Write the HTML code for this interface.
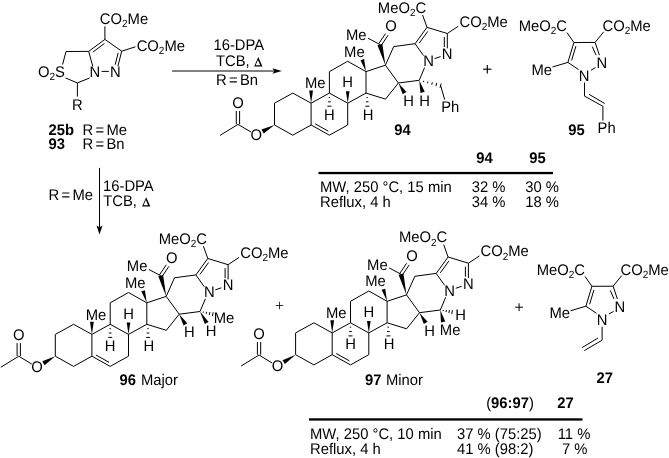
<!DOCTYPE html>
<html><head><meta charset="utf-8"><style>
html,body{margin:0;padding:0;background:#fff;width:669px;height:458px;overflow:hidden}
svg{display:block;will-change:transform}
text{text-rendering:geometricPrecision;font-family:"Liberation Sans", sans-serif;fill:#000}
</style></head><body>
<svg width="669" height="458" viewBox="0 0 669 458" stroke-linecap="butt">
<line x1="104.9" y1="39.4" x2="104.9" y2="26.4" stroke="#000" stroke-width="1.0"/>
<line x1="88.7" y1="51.4" x2="104.9" y2="39.4" stroke="#000" stroke-width="1.0"/>
<line x1="104.9" y1="39.4" x2="121.7" y2="51.2" stroke="#000" stroke-width="1.0"/>
<line x1="92.75" y1="52.13" x2="104.42" y2="43.49" stroke="#000" stroke-width="1.0"/>
<line x1="121.7" y1="51.2" x2="135.4" y2="46.8" stroke="#000" stroke-width="1.0"/>
<line x1="66" y1="51.5" x2="88.7" y2="51.4" stroke="#000" stroke-width="1.0"/>
<line x1="66" y1="51.5" x2="62.6" y2="64.5" stroke="#000" stroke-width="1.0"/>
<line x1="121.7" y1="51.2" x2="117.9" y2="66.2" stroke="#000" stroke-width="1.0"/>
<line x1="118.18" y1="52.86" x2="115.18" y2="64.71" stroke="#000" stroke-width="1.0"/>
<line x1="88.7" y1="51.4" x2="92.8" y2="66.4" stroke="#000" stroke-width="1.0"/>
<line x1="101.6" y1="71.4" x2="108.8" y2="71.4" stroke="#000" stroke-width="1.0"/>
<line x1="65.6" y1="78" x2="77.4" y2="82.9" stroke="#000" stroke-width="1.0"/>
<line x1="89.6" y1="78" x2="77.4" y2="82.9" stroke="#000" stroke-width="1.0"/>
<line x1="77.4" y1="82.9" x2="77.4" y2="96.6" stroke="#000" stroke-width="1.0"/>
<text transform="translate(124,24.1) scale(1,1.04)" font-size="14.8" text-anchor="middle">CO<tspan font-size="10" dy="3.2">2</tspan><tspan dy="-3.2">Me</tspan></text>
<text transform="translate(160.8,50.9) scale(1,1.04)" font-size="14.8" text-anchor="middle">CO<tspan font-size="10" dy="3.2">2</tspan><tspan dy="-3.2">Me</tspan></text>
<text transform="translate(51.4,76.6) scale(1,1.04)" font-size="14.8" text-anchor="middle">O<tspan font-size="10" dy="3.2">2</tspan><tspan dy="-3.2">S</tspan></text>
<text transform="translate(94.8,76.6) scale(1,1.04)" font-size="14.8" text-anchor="middle">N</text>
<text transform="translate(115.3,76.6) scale(1,1.04)" font-size="14.8" text-anchor="middle">N</text>
<text transform="translate(77.4,110.4) scale(1,1.04)" font-size="14.8" text-anchor="middle">R</text>
<text transform="translate(48.5,134.7) scale(1,1.04)" font-size="14.8" text-anchor="start" font-weight="bold">25b</text>
<text transform="translate(82.5,134.7) scale(1,1.04)" font-size="14.8" text-anchor="start">R<tspan dx="2.3">=</tspan><tspan dx="2.3">Me</tspan></text>
<text transform="translate(48.5,148.6) scale(1,1.04)" font-size="14.8" text-anchor="start" font-weight="bold">93</text>
<text transform="translate(82.5,148.6) scale(1,1.04)" font-size="14.8" text-anchor="start">R<tspan dx="2.3">=</tspan><tspan dx="2.3">Bn</tspan></text>
<line x1="172.1" y1="71" x2="275" y2="71" stroke="#000" stroke-width="1.0"/>
<polygon points="281.8,71 272.4,68.2 274.4,71 272.4,73.8"/>
<text transform="translate(238.8,50.3) scale(1,1.04)" font-size="14.8" text-anchor="middle">16-DPA</text>
<text transform="translate(216,66.2) scale(1,1.04)" font-size="14.8" text-anchor="start">TCB,</text>
<path fill-rule="evenodd" d="M258.3,57.1L262.45,66.5L254.15,66.5Z M257.94,60.01L260.24,65.2L255.65,65.2Z"/>
<text transform="translate(237,84.5) scale(1,1.04)" font-size="14.8" text-anchor="middle">R<tspan dx="2.3">=</tspan><tspan dx="2.3">Bn</tspan></text>
<line x1="292.8" y1="93.1" x2="274.5" y2="103.2" stroke="#000" stroke-width="1.0"/>
<line x1="274.5" y1="103.2" x2="274.5" y2="125" stroke="#000" stroke-width="1.0"/>
<line x1="274.5" y1="125" x2="292.8" y2="135.2" stroke="#000" stroke-width="1.0"/>
<line x1="292.8" y1="135.2" x2="311.1" y2="125" stroke="#000" stroke-width="1.0"/>
<line x1="311.1" y1="125" x2="311.1" y2="103.2" stroke="#000" stroke-width="1.0"/>
<line x1="311.1" y1="103.2" x2="292.8" y2="93.1" stroke="#000" stroke-width="1.0"/>
<line x1="311.1" y1="125" x2="329.4" y2="135.2" stroke="#000" stroke-width="1.0"/>
<line x1="329.4" y1="135.2" x2="347.7" y2="125" stroke="#000" stroke-width="1.0"/>
<line x1="347.7" y1="125" x2="347.7" y2="103.2" stroke="#000" stroke-width="1.0"/>
<line x1="347.7" y1="103.2" x2="329.4" y2="93.1" stroke="#000" stroke-width="1.0"/>
<line x1="329.4" y1="93.1" x2="311.1" y2="103.2" stroke="#000" stroke-width="1.0"/>
<line x1="329.4" y1="93.1" x2="329.4" y2="71.6" stroke="#000" stroke-width="1.0"/>
<line x1="329.4" y1="71.6" x2="347.7" y2="61.3" stroke="#000" stroke-width="1.0"/>
<line x1="347.7" y1="61.3" x2="366" y2="71.6" stroke="#000" stroke-width="1.0"/>
<line x1="366" y1="71.6" x2="366" y2="93.1" stroke="#000" stroke-width="1.0"/>
<line x1="366" y1="93.1" x2="347.7" y2="103.2" stroke="#000" stroke-width="1.0"/>
<line x1="366" y1="71.6" x2="385.4" y2="65.2" stroke="#000" stroke-width="1.0"/>
<line x1="385.4" y1="65.2" x2="398.4" y2="83" stroke="#000" stroke-width="1.0"/>
<line x1="398.4" y1="83" x2="385.5" y2="99.1" stroke="#000" stroke-width="1.0"/>
<line x1="385.5" y1="99.1" x2="366" y2="93.1" stroke="#000" stroke-width="1.0"/>
<line x1="385.4" y1="65.2" x2="393.7" y2="46.6" stroke="#000" stroke-width="1.0"/>
<line x1="393.7" y1="46.6" x2="415.1" y2="43.7" stroke="#000" stroke-width="1.0"/>
<line x1="419.2" y1="80.3" x2="398.4" y2="83" stroke="#000" stroke-width="1.0"/>
<line x1="415.1" y1="43.7" x2="427" y2="27.3" stroke="#000" stroke-width="1.0"/>
<line x1="427" y1="27.3" x2="447.3" y2="33.5" stroke="#000" stroke-width="1.0"/>
<line x1="315.12" y1="123.81" x2="328.3" y2="131.15" stroke="#000" stroke-width="1.0"/>
<line x1="419.19" y1="43.17" x2="427.76" y2="31.36" stroke="#000" stroke-width="1.0"/>
<line x1="415.1" y1="43.7" x2="423.5" y2="55.6" stroke="#000" stroke-width="1.0"/>
<line x1="424.6" y1="67.6" x2="419.2" y2="80.3" stroke="#000" stroke-width="1.0"/>
<line x1="434.6" y1="58.6" x2="440.6" y2="56.6" stroke="#000" stroke-width="1.0"/>
<line x1="447.3" y1="33.5" x2="447.3" y2="48.3" stroke="#000" stroke-width="1.0"/>
<line x1="444.3" y1="37" x2="444.3" y2="47" stroke="#000" stroke-width="1.0"/>
<line x1="427" y1="27.3" x2="422.6" y2="15" stroke="#000" stroke-width="1.0"/>
<line x1="447.3" y1="33.5" x2="458.3" y2="26.2" stroke="#000" stroke-width="1.0"/>
<text transform="translate(402,12.7) scale(1,1.04)" font-size="14.8" text-anchor="middle">MeO<tspan font-size="10" dy="3.2">2</tspan><tspan dy="-3.2">C</tspan></text>
<text transform="translate(483.6,26.6) scale(1,1.04)" font-size="14.8" text-anchor="middle">CO<tspan font-size="10" dy="3.2">2</tspan><tspan dy="-3.2">Me</tspan></text>
<text transform="translate(428.5,65.9) scale(1,1.04)" font-size="14.8" text-anchor="middle">N</text>
<text transform="translate(447.2,59) scale(1,1.04)" font-size="14.8" text-anchor="middle">N</text>
<polygon points="385.4,65.2 382.32,43.86 377.48,45.14"/>
<line x1="379.9" y1="44.5" x2="368" y2="38.2" stroke="#000" stroke-width="1.0"/>
<line x1="378.6" y1="43.8" x2="385.5" y2="33.6" stroke="#000" stroke-width="1.0"/>
<line x1="381.3" y1="45.3" x2="388.1" y2="35.2" stroke="#000" stroke-width="1.0"/>
<text transform="translate(390.9,31.3) scale(1,1.04)" font-size="14.8" text-anchor="middle">O</text>
<text transform="translate(356.3,40) scale(1,1.04)" font-size="14.8" text-anchor="middle">Me</text>
<polygon points="366,71.6 364.12,59.04 360.48,60.16"/>
<text transform="translate(354.4,56.5) scale(1,1.04)" font-size="14.8" text-anchor="middle">Me</text>
<polygon points="311.1,103.2 313,90.6 309.2,90.6"/>
<text transform="translate(315.2,88.4) scale(1,1.04)" font-size="14.8" text-anchor="middle">Me</text>
<polygon points="347.7,103.2 349.5,91.3 345.9,91.3"/>
<text transform="translate(347.7,87.4) scale(1,1.04)" font-size="14.8" text-anchor="middle">H</text>
<line x1="328.73" y1="97.47" x2="330.07" y2="97.47" stroke="#000" stroke-width="1.0"/>
<line x1="328.07" y1="101.83" x2="330.73" y2="101.83" stroke="#000" stroke-width="1.0"/>
<line x1="327.4" y1="106.2" x2="331.4" y2="106.2" stroke="#000" stroke-width="1.0"/>
<text transform="translate(329.4,119.6) scale(1,1.04)" font-size="14.8" text-anchor="middle">H</text>
<line x1="366.43" y1="97.48" x2="367.77" y2="97.45" stroke="#000" stroke-width="1.0"/>
<line x1="365.87" y1="101.86" x2="368.53" y2="101.8" stroke="#000" stroke-width="1.0"/>
<line x1="365.3" y1="106.25" x2="369.3" y2="106.15" stroke="#000" stroke-width="1.0"/>
<text transform="translate(368,119.6) scale(1,1.04)" font-size="14.8" text-anchor="middle">H</text>
<polygon points="398.4,83 402.72,94.34 406.48,92.06"/>
<text transform="translate(408.5,105.9) scale(1,1.04)" font-size="14.8" text-anchor="middle">H</text>
<polygon points="274.5,125 261.48,129.59 263.72,133.61"/>
<line x1="251" y1="132" x2="238" y2="124.4" stroke="#000" stroke-width="1.0"/>
<line x1="238" y1="124.4" x2="220" y2="135.4" stroke="#000" stroke-width="1.0"/>
<line x1="236.3" y1="111" x2="236.3" y2="124.2" stroke="#000" stroke-width="1.0"/>
<line x1="239.6" y1="111" x2="239.6" y2="124.2" stroke="#000" stroke-width="1.0"/>
<text transform="translate(256.3,139.6) scale(1,1.04)" font-size="14.8" text-anchor="middle">O</text>
<text transform="translate(238,108.3) scale(1,1.04)" font-size="14.8" text-anchor="middle">O</text>
<polygon points="419.2,80.3 420.48,93 424.72,91.8"/>
<text transform="translate(424.6,105.9) scale(1,1.04)" font-size="14.8" text-anchor="middle">H</text>
<line x1="423.34" y1="81.94" x2="423.62" y2="80.78" stroke="#000" stroke-width="1.0"/>
<line x1="427.56" y1="83.24" x2="427.96" y2="81.6" stroke="#000" stroke-width="1.0"/>
<line x1="431.74" y1="84.7" x2="432.34" y2="82.26" stroke="#000" stroke-width="1.0"/>
<line x1="435.92" y1="86.17" x2="436.72" y2="82.91" stroke="#000" stroke-width="1.0"/>
<line x1="440.1" y1="87.64" x2="441.1" y2="83.56" stroke="#000" stroke-width="1.0"/>
<line x1="440.6" y1="85.6" x2="444.7" y2="99.6" stroke="#000" stroke-width="1.0"/>
<text transform="translate(450.2,111.9) scale(1,1.04)" font-size="14.8" text-anchor="middle">Ph</text>
<text transform="translate(402.6,135) scale(1,1.04)" font-size="14.8" text-anchor="middle" font-weight="bold">94</text>
<line x1="483.1" y1="69.2" x2="491.5" y2="69.2" stroke="#000" stroke-width="1.15"/>
<line x1="487.3" y1="65" x2="487.3" y2="73.4" stroke="#000" stroke-width="1.15"/>
<line x1="573.9" y1="42.5" x2="595.1" y2="42.4" stroke="#000" stroke-width="1.0"/>
<line x1="573.9" y1="42.5" x2="567.9" y2="62.4" stroke="#000" stroke-width="1.0"/>
<line x1="575.93" y1="46.15" x2="571.61" y2="60.48" stroke="#000" stroke-width="1.0"/>
<line x1="573.9" y1="42.5" x2="567" y2="32.6" stroke="#000" stroke-width="1.0"/>
<line x1="595.1" y1="42.4" x2="603.7" y2="31.8" stroke="#000" stroke-width="1.0"/>
<line x1="595.1" y1="42.4" x2="599.4" y2="55.2" stroke="#000" stroke-width="1.0"/>
<line x1="592.3" y1="46.6" x2="596" y2="55.2" stroke="#000" stroke-width="1.0"/>
<line x1="552.5" y1="67" x2="567.9" y2="62.4" stroke="#000" stroke-width="1.0"/>
<line x1="567.9" y1="62.4" x2="578.6" y2="69.6" stroke="#000" stroke-width="1.0"/>
<line x1="591" y1="70.2" x2="595.6" y2="67.6" stroke="#000" stroke-width="1.0"/>
<text transform="translate(542.8,31.1) scale(1,1.04)" font-size="14.8" text-anchor="middle">MeO<tspan font-size="10" dy="3.2">2</tspan><tspan dy="-3.2">C</tspan></text>
<text transform="translate(626.6,31.1) scale(1,1.04)" font-size="14.8" text-anchor="middle">CO<tspan font-size="10" dy="3.2">2</tspan><tspan dy="-3.2">Me</tspan></text>
<text transform="translate(601.8,67.8) scale(1,1.04)" font-size="14.8" text-anchor="middle">N</text>
<text transform="translate(541.8,74.6) scale(1,1.04)" font-size="14.8" text-anchor="middle">Me</text>
<text transform="translate(584.2,80.7) scale(1,1.04)" font-size="14.8" text-anchor="middle">N</text>
<line x1="584.5" y1="82.5" x2="584.5" y2="96.1" stroke="#000" stroke-width="1.0"/>
<line x1="584.5" y1="96.1" x2="602.9" y2="106.3" stroke="#000" stroke-width="1.0"/>
<line x1="589" y1="94.3" x2="604.7" y2="103.5" stroke="#000" stroke-width="1.0"/>
<line x1="602.9" y1="106.3" x2="602.9" y2="120.5" stroke="#000" stroke-width="1.0"/>
<text transform="translate(606.6,132.7) scale(1,1.04)" font-size="14.8" text-anchor="middle">Ph</text>
<text transform="translate(576.5,135) scale(1,1.04)" font-size="14.8" text-anchor="middle" font-weight="bold">95</text>
<text transform="translate(484.5,163) scale(1,1.04)" font-size="14.8" text-anchor="middle" font-weight="bold">94</text>
<text transform="translate(537.5,163) scale(1,1.04)" font-size="14.8" text-anchor="middle" font-weight="bold">95</text>
<rect x="318.5" y="171.9" width="234.5" height="2.3"/>
<text transform="translate(320,191.7) scale(1,1.04)" font-size="14.8" text-anchor="start">MW, 250 °C, 15 min</text>
<text transform="translate(320,206.8) scale(1,1.04)" font-size="14.8" text-anchor="start">Reflux, 4 h</text>
<text transform="translate(505.5,192) scale(1,1.04)" font-size="14.8" text-anchor="end">32 %</text>
<text transform="translate(559,192) scale(1,1.04)" font-size="14.8" text-anchor="end">30 %</text>
<text transform="translate(505.5,207) scale(1,1.04)" font-size="14.8" text-anchor="end">34 %</text>
<text transform="translate(559,207) scale(1,1.04)" font-size="14.8" text-anchor="end">18 %</text>
<line x1="99.5" y1="167.9" x2="99.5" y2="227" stroke="#000" stroke-width="1.0"/>
<polygon points="99.5,234.4 96.5,225.4 99.5,227.2 102.5,225.4"/>
<text transform="translate(93,200) scale(1,1.04)" font-size="14.8" text-anchor="end">R<tspan dx="2.3">=</tspan><tspan dx="2.3">Me</tspan></text>
<text transform="translate(103,191) scale(1,1.04)" font-size="14.8" text-anchor="start">16-DPA</text>
<text transform="translate(103.2,206.4) scale(1,1.04)" font-size="14.8" text-anchor="start">TCB,</text>
<path fill-rule="evenodd" d="M146.2,197.2L150.35,206.6L142.05,206.6Z M145.84,200.11L148.14,205.3L143.55,205.3Z"/>
<g transform="translate(-219.2,231.2)">
<line x1="292.8" y1="93.1" x2="274.5" y2="103.2" stroke="#000" stroke-width="1.0"/>
<line x1="274.5" y1="103.2" x2="274.5" y2="125" stroke="#000" stroke-width="1.0"/>
<line x1="274.5" y1="125" x2="292.8" y2="135.2" stroke="#000" stroke-width="1.0"/>
<line x1="292.8" y1="135.2" x2="311.1" y2="125" stroke="#000" stroke-width="1.0"/>
<line x1="311.1" y1="125" x2="311.1" y2="103.2" stroke="#000" stroke-width="1.0"/>
<line x1="311.1" y1="103.2" x2="292.8" y2="93.1" stroke="#000" stroke-width="1.0"/>
<line x1="311.1" y1="125" x2="329.4" y2="135.2" stroke="#000" stroke-width="1.0"/>
<line x1="329.4" y1="135.2" x2="347.7" y2="125" stroke="#000" stroke-width="1.0"/>
<line x1="347.7" y1="125" x2="347.7" y2="103.2" stroke="#000" stroke-width="1.0"/>
<line x1="347.7" y1="103.2" x2="329.4" y2="93.1" stroke="#000" stroke-width="1.0"/>
<line x1="329.4" y1="93.1" x2="311.1" y2="103.2" stroke="#000" stroke-width="1.0"/>
<line x1="329.4" y1="93.1" x2="329.4" y2="71.6" stroke="#000" stroke-width="1.0"/>
<line x1="329.4" y1="71.6" x2="347.7" y2="61.3" stroke="#000" stroke-width="1.0"/>
<line x1="347.7" y1="61.3" x2="366" y2="71.6" stroke="#000" stroke-width="1.0"/>
<line x1="366" y1="71.6" x2="366" y2="93.1" stroke="#000" stroke-width="1.0"/>
<line x1="366" y1="93.1" x2="347.7" y2="103.2" stroke="#000" stroke-width="1.0"/>
<line x1="366" y1="71.6" x2="385.4" y2="65.2" stroke="#000" stroke-width="1.0"/>
<line x1="385.4" y1="65.2" x2="398.4" y2="83" stroke="#000" stroke-width="1.0"/>
<line x1="398.4" y1="83" x2="385.5" y2="99.1" stroke="#000" stroke-width="1.0"/>
<line x1="385.5" y1="99.1" x2="366" y2="93.1" stroke="#000" stroke-width="1.0"/>
<line x1="385.4" y1="65.2" x2="393.7" y2="46.6" stroke="#000" stroke-width="1.0"/>
<line x1="393.7" y1="46.6" x2="415.1" y2="43.7" stroke="#000" stroke-width="1.0"/>
<line x1="419.2" y1="80.3" x2="398.4" y2="83" stroke="#000" stroke-width="1.0"/>
<line x1="415.1" y1="43.7" x2="427" y2="27.3" stroke="#000" stroke-width="1.0"/>
<line x1="427" y1="27.3" x2="447.3" y2="33.5" stroke="#000" stroke-width="1.0"/>
<line x1="315.12" y1="123.81" x2="328.3" y2="131.15" stroke="#000" stroke-width="1.0"/>
<line x1="419.19" y1="43.17" x2="427.76" y2="31.36" stroke="#000" stroke-width="1.0"/>
<line x1="415.1" y1="43.7" x2="423.5" y2="55.6" stroke="#000" stroke-width="1.0"/>
<line x1="424.6" y1="67.6" x2="419.2" y2="80.3" stroke="#000" stroke-width="1.0"/>
<line x1="434.6" y1="58.6" x2="440.6" y2="56.6" stroke="#000" stroke-width="1.0"/>
<line x1="447.3" y1="33.5" x2="447.3" y2="48.3" stroke="#000" stroke-width="1.0"/>
<line x1="444.3" y1="37" x2="444.3" y2="47" stroke="#000" stroke-width="1.0"/>
<line x1="427" y1="27.3" x2="422.6" y2="15" stroke="#000" stroke-width="1.0"/>
<line x1="447.3" y1="33.5" x2="458.3" y2="26.2" stroke="#000" stroke-width="1.0"/>
<text transform="translate(402,12.7) scale(1,1.04)" font-size="14.8" text-anchor="middle">MeO<tspan font-size="10" dy="3.2">2</tspan><tspan dy="-3.2">C</tspan></text>
<text transform="translate(483.6,26.6) scale(1,1.04)" font-size="14.8" text-anchor="middle">CO<tspan font-size="10" dy="3.2">2</tspan><tspan dy="-3.2">Me</tspan></text>
<text transform="translate(428.5,65.9) scale(1,1.04)" font-size="14.8" text-anchor="middle">N</text>
<text transform="translate(447.2,59) scale(1,1.04)" font-size="14.8" text-anchor="middle">N</text>
<polygon points="385.4,65.2 382.32,43.86 377.48,45.14"/>
<line x1="379.9" y1="44.5" x2="368" y2="38.2" stroke="#000" stroke-width="1.0"/>
<line x1="378.6" y1="43.8" x2="385.5" y2="33.6" stroke="#000" stroke-width="1.0"/>
<line x1="381.3" y1="45.3" x2="388.1" y2="35.2" stroke="#000" stroke-width="1.0"/>
<text transform="translate(390.9,31.3) scale(1,1.04)" font-size="14.8" text-anchor="middle">O</text>
<text transform="translate(356.3,40) scale(1,1.04)" font-size="14.8" text-anchor="middle">Me</text>
<polygon points="366,71.6 364.12,59.04 360.48,60.16"/>
<text transform="translate(354.4,56.5) scale(1,1.04)" font-size="14.8" text-anchor="middle">Me</text>
<polygon points="311.1,103.2 313,90.6 309.2,90.6"/>
<text transform="translate(315.2,88.4) scale(1,1.04)" font-size="14.8" text-anchor="middle">Me</text>
<polygon points="347.7,103.2 349.5,91.3 345.9,91.3"/>
<text transform="translate(347.7,87.4) scale(1,1.04)" font-size="14.8" text-anchor="middle">H</text>
<line x1="328.73" y1="97.47" x2="330.07" y2="97.47" stroke="#000" stroke-width="1.0"/>
<line x1="328.07" y1="101.83" x2="330.73" y2="101.83" stroke="#000" stroke-width="1.0"/>
<line x1="327.4" y1="106.2" x2="331.4" y2="106.2" stroke="#000" stroke-width="1.0"/>
<text transform="translate(329.4,119.6) scale(1,1.04)" font-size="14.8" text-anchor="middle">H</text>
<line x1="366.43" y1="97.48" x2="367.77" y2="97.45" stroke="#000" stroke-width="1.0"/>
<line x1="365.87" y1="101.86" x2="368.53" y2="101.8" stroke="#000" stroke-width="1.0"/>
<line x1="365.3" y1="106.25" x2="369.3" y2="106.15" stroke="#000" stroke-width="1.0"/>
<text transform="translate(368,119.6) scale(1,1.04)" font-size="14.8" text-anchor="middle">H</text>
<polygon points="398.4,83 402.72,94.34 406.48,92.06"/>
<text transform="translate(408.5,105.9) scale(1,1.04)" font-size="14.8" text-anchor="middle">H</text>
<polygon points="274.5,125 261.42,130.17 263.78,134.11"/>
<line x1="251" y1="132.9" x2="238" y2="125.03" stroke="#000" stroke-width="1.0"/>
<line x1="238" y1="125.03" x2="220" y2="136.03" stroke="#000" stroke-width="1.0"/>
<line x1="236.3" y1="111.9" x2="236.3" y2="124.83" stroke="#000" stroke-width="1.0"/>
<line x1="239.6" y1="111.9" x2="239.6" y2="124.83" stroke="#000" stroke-width="1.0"/>
<text transform="translate(256.3,140.5) scale(1,1.04)" font-size="14.8" text-anchor="middle">O</text>
<text transform="translate(238,109.2) scale(1,1.04)" font-size="14.8" text-anchor="middle">O</text>
<polygon points="419.2,80.3 424,92.91 427.8,90.69"/>
<text transform="translate(430.2,104.4) scale(1,1.04)" font-size="14.8" text-anchor="middle">H</text>
<line x1="422.28" y1="81.56" x2="422.52" y2="80.39" stroke="#000" stroke-width="1.0"/>
<line x1="425.39" y1="82.63" x2="425.81" y2="80.67" stroke="#000" stroke-width="1.0"/>
<line x1="428.49" y1="83.79" x2="429.11" y2="80.86" stroke="#000" stroke-width="1.0"/>
<line x1="431.59" y1="84.96" x2="432.41" y2="81.04" stroke="#000" stroke-width="1.0"/>
<text transform="translate(443.2,92) scale(1,1.04)" font-size="14.8" text-anchor="middle">Me</text>
</g>
<text transform="translate(119.6,384.6) scale(1,1.04)" font-size="14.8" text-anchor="start" font-weight="bold">96</text>
<text transform="translate(141,384.6) scale(1,1.04)" font-size="14.8" text-anchor="start">Major</text>
<line x1="275.8" y1="305.5" x2="283.2" y2="305.5" stroke="#000" stroke-width="0.8"/>
<line x1="279.5" y1="301.8" x2="279.5" y2="309.2" stroke="#000" stroke-width="0.8"/>
<g transform="translate(21.1,229.7)">
<line x1="292.8" y1="93.1" x2="274.5" y2="103.2" stroke="#000" stroke-width="1.0"/>
<line x1="274.5" y1="103.2" x2="274.5" y2="125" stroke="#000" stroke-width="1.0"/>
<line x1="274.5" y1="125" x2="292.8" y2="135.2" stroke="#000" stroke-width="1.0"/>
<line x1="292.8" y1="135.2" x2="311.1" y2="125" stroke="#000" stroke-width="1.0"/>
<line x1="311.1" y1="125" x2="311.1" y2="103.2" stroke="#000" stroke-width="1.0"/>
<line x1="311.1" y1="103.2" x2="292.8" y2="93.1" stroke="#000" stroke-width="1.0"/>
<line x1="311.1" y1="125" x2="329.4" y2="135.2" stroke="#000" stroke-width="1.0"/>
<line x1="329.4" y1="135.2" x2="347.7" y2="125" stroke="#000" stroke-width="1.0"/>
<line x1="347.7" y1="125" x2="347.7" y2="103.2" stroke="#000" stroke-width="1.0"/>
<line x1="347.7" y1="103.2" x2="329.4" y2="93.1" stroke="#000" stroke-width="1.0"/>
<line x1="329.4" y1="93.1" x2="311.1" y2="103.2" stroke="#000" stroke-width="1.0"/>
<line x1="329.4" y1="93.1" x2="329.4" y2="71.6" stroke="#000" stroke-width="1.0"/>
<line x1="329.4" y1="71.6" x2="347.7" y2="61.3" stroke="#000" stroke-width="1.0"/>
<line x1="347.7" y1="61.3" x2="366" y2="71.6" stroke="#000" stroke-width="1.0"/>
<line x1="366" y1="71.6" x2="366" y2="93.1" stroke="#000" stroke-width="1.0"/>
<line x1="366" y1="93.1" x2="347.7" y2="103.2" stroke="#000" stroke-width="1.0"/>
<line x1="366" y1="71.6" x2="385.4" y2="65.2" stroke="#000" stroke-width="1.0"/>
<line x1="385.4" y1="65.2" x2="398.4" y2="83" stroke="#000" stroke-width="1.0"/>
<line x1="398.4" y1="83" x2="385.5" y2="99.1" stroke="#000" stroke-width="1.0"/>
<line x1="385.5" y1="99.1" x2="366" y2="93.1" stroke="#000" stroke-width="1.0"/>
<line x1="385.4" y1="65.2" x2="393.7" y2="46.6" stroke="#000" stroke-width="1.0"/>
<line x1="393.7" y1="46.6" x2="415.1" y2="43.7" stroke="#000" stroke-width="1.0"/>
<line x1="419.2" y1="80.3" x2="398.4" y2="83" stroke="#000" stroke-width="1.0"/>
<line x1="415.1" y1="43.7" x2="427" y2="27.3" stroke="#000" stroke-width="1.0"/>
<line x1="427" y1="27.3" x2="447.3" y2="33.5" stroke="#000" stroke-width="1.0"/>
<line x1="315.12" y1="123.81" x2="328.3" y2="131.15" stroke="#000" stroke-width="1.0"/>
<line x1="419.19" y1="43.17" x2="427.76" y2="31.36" stroke="#000" stroke-width="1.0"/>
<line x1="415.1" y1="43.7" x2="423.5" y2="55.6" stroke="#000" stroke-width="1.0"/>
<line x1="424.6" y1="67.6" x2="419.2" y2="80.3" stroke="#000" stroke-width="1.0"/>
<line x1="434.6" y1="58.6" x2="440.6" y2="56.6" stroke="#000" stroke-width="1.0"/>
<line x1="447.3" y1="33.5" x2="447.3" y2="48.3" stroke="#000" stroke-width="1.0"/>
<line x1="444.3" y1="37" x2="444.3" y2="47" stroke="#000" stroke-width="1.0"/>
<line x1="427" y1="27.3" x2="422.6" y2="15" stroke="#000" stroke-width="1.0"/>
<line x1="447.3" y1="33.5" x2="458.3" y2="26.2" stroke="#000" stroke-width="1.0"/>
<text transform="translate(402,12.7) scale(1,1.04)" font-size="14.8" text-anchor="middle">MeO<tspan font-size="10" dy="3.2">2</tspan><tspan dy="-3.2">C</tspan></text>
<text transform="translate(483.6,26.6) scale(1,1.04)" font-size="14.8" text-anchor="middle">CO<tspan font-size="10" dy="3.2">2</tspan><tspan dy="-3.2">Me</tspan></text>
<text transform="translate(428.5,65.9) scale(1,1.04)" font-size="14.8" text-anchor="middle">N</text>
<text transform="translate(447.2,59) scale(1,1.04)" font-size="14.8" text-anchor="middle">N</text>
<polygon points="385.4,65.2 382.32,43.86 377.48,45.14"/>
<line x1="379.9" y1="44.5" x2="368" y2="38.2" stroke="#000" stroke-width="1.0"/>
<line x1="378.6" y1="43.8" x2="385.5" y2="33.6" stroke="#000" stroke-width="1.0"/>
<line x1="381.3" y1="45.3" x2="388.1" y2="35.2" stroke="#000" stroke-width="1.0"/>
<text transform="translate(390.9,31.3) scale(1,1.04)" font-size="14.8" text-anchor="middle">O</text>
<text transform="translate(356.3,40) scale(1,1.04)" font-size="14.8" text-anchor="middle">Me</text>
<polygon points="366,71.6 364.12,59.04 360.48,60.16"/>
<text transform="translate(354.4,56.5) scale(1,1.04)" font-size="14.8" text-anchor="middle">Me</text>
<polygon points="311.1,103.2 313,90.6 309.2,90.6"/>
<text transform="translate(315.2,88.4) scale(1,1.04)" font-size="14.8" text-anchor="middle">Me</text>
<polygon points="347.7,103.2 349.5,91.3 345.9,91.3"/>
<text transform="translate(347.7,87.4) scale(1,1.04)" font-size="14.8" text-anchor="middle">H</text>
<line x1="328.73" y1="97.47" x2="330.07" y2="97.47" stroke="#000" stroke-width="1.0"/>
<line x1="328.07" y1="101.83" x2="330.73" y2="101.83" stroke="#000" stroke-width="1.0"/>
<line x1="327.4" y1="106.2" x2="331.4" y2="106.2" stroke="#000" stroke-width="1.0"/>
<text transform="translate(329.4,119.6) scale(1,1.04)" font-size="14.8" text-anchor="middle">H</text>
<line x1="366.43" y1="97.48" x2="367.77" y2="97.45" stroke="#000" stroke-width="1.0"/>
<line x1="365.87" y1="101.86" x2="368.53" y2="101.8" stroke="#000" stroke-width="1.0"/>
<line x1="365.3" y1="106.25" x2="369.3" y2="106.15" stroke="#000" stroke-width="1.0"/>
<text transform="translate(368,119.6) scale(1,1.04)" font-size="14.8" text-anchor="middle">H</text>
<polygon points="398.4,83 402.72,94.34 406.48,92.06"/>
<text transform="translate(408.5,105.9) scale(1,1.04)" font-size="14.8" text-anchor="middle">H</text>
<polygon points="274.5,125 261.39,130.43 263.81,134.33"/>
<line x1="251" y1="133.3" x2="238" y2="125.31" stroke="#000" stroke-width="1.0"/>
<line x1="238" y1="125.31" x2="220" y2="136.31" stroke="#000" stroke-width="1.0"/>
<line x1="236.3" y1="112.3" x2="236.3" y2="125.11" stroke="#000" stroke-width="1.0"/>
<line x1="239.6" y1="112.3" x2="239.6" y2="125.11" stroke="#000" stroke-width="1.0"/>
<text transform="translate(256.3,140.9) scale(1,1.04)" font-size="14.8" text-anchor="middle">O</text>
<text transform="translate(238,109.6) scale(1,1.04)" font-size="14.8" text-anchor="middle">O</text>
<polygon points="419.2,80.3 419.86,92.8 424.14,91.8"/>
<text transform="translate(429,105.5) scale(1,1.04)" font-size="14.8" text-anchor="middle">Me</text>
<line x1="422.04" y1="81.42" x2="422.26" y2="80.23" stroke="#000" stroke-width="1.0"/>
<line x1="424.92" y1="82.33" x2="425.28" y2="80.37" stroke="#000" stroke-width="1.0"/>
<line x1="427.79" y1="83.35" x2="428.31" y2="80.4" stroke="#000" stroke-width="1.0"/>
<line x1="430.65" y1="84.37" x2="431.35" y2="80.43" stroke="#000" stroke-width="1.0"/>
<text transform="translate(439.6,90.3) scale(1,1.04)" font-size="14.8" text-anchor="middle">H</text>
</g>
<text transform="translate(364.9,384.6) scale(1,1.04)" font-size="14.8" text-anchor="start" font-weight="bold">97</text>
<text transform="translate(385.9,384.6) scale(1,1.04)" font-size="14.8" text-anchor="start">Minor</text>
<line x1="515.2" y1="307.2" x2="523" y2="307.2" stroke="#000" stroke-width="1.0"/>
<line x1="519.1" y1="303.3" x2="519.1" y2="311.1" stroke="#000" stroke-width="1.0"/>
<g transform="translate(18,243.8)">
<line x1="573.9" y1="42.5" x2="595.1" y2="42.4" stroke="#000" stroke-width="1.0"/>
<line x1="573.9" y1="42.5" x2="567.9" y2="62.4" stroke="#000" stroke-width="1.0"/>
<line x1="575.93" y1="46.15" x2="571.61" y2="60.48" stroke="#000" stroke-width="1.0"/>
<line x1="573.9" y1="42.5" x2="567" y2="32.6" stroke="#000" stroke-width="1.0"/>
<line x1="595.1" y1="42.4" x2="603.7" y2="31.8" stroke="#000" stroke-width="1.0"/>
<line x1="595.1" y1="42.4" x2="599.4" y2="55.2" stroke="#000" stroke-width="1.0"/>
<line x1="592.3" y1="46.6" x2="596" y2="55.2" stroke="#000" stroke-width="1.0"/>
<line x1="552.5" y1="67" x2="567.9" y2="62.4" stroke="#000" stroke-width="1.0"/>
<line x1="567.9" y1="62.4" x2="578.6" y2="69.6" stroke="#000" stroke-width="1.0"/>
<line x1="591" y1="70.2" x2="595.6" y2="67.6" stroke="#000" stroke-width="1.0"/>
<text transform="translate(542.8,31.1) scale(1,1.04)" font-size="14.8" text-anchor="middle">MeO<tspan font-size="10" dy="3.2">2</tspan><tspan dy="-3.2">C</tspan></text>
<text transform="translate(626.6,31.1) scale(1,1.04)" font-size="14.8" text-anchor="middle">CO<tspan font-size="10" dy="3.2">2</tspan><tspan dy="-3.2">Me</tspan></text>
<text transform="translate(601.8,67.8) scale(1,1.04)" font-size="14.8" text-anchor="middle">N</text>
<text transform="translate(541.8,74.6) scale(1,1.04)" font-size="14.8" text-anchor="middle">Me</text>
<text transform="translate(584.2,80.7) scale(1,1.04)" font-size="14.8" text-anchor="middle">N</text>
</g>
<line x1="602.1" y1="326.7" x2="602.1" y2="340.2" stroke="#000" stroke-width="1.0"/>
<line x1="602.1" y1="340.2" x2="584.3" y2="350.6" stroke="#000" stroke-width="1.0"/>
<line x1="598" y1="338" x2="582.1" y2="347.6" stroke="#000" stroke-width="1.0"/>
<text transform="translate(604.7,382.5) scale(1,1.04)" font-size="14.8" text-anchor="middle" font-weight="bold">27</text>
<text transform="translate(510,407.7) scale(1,1.04)" font-size="14.8" text-anchor="middle">(<tspan font-weight="bold">96:97</tspan>)</text>
<text transform="translate(565.5,407.7) scale(1,1.04)" font-size="14.8" text-anchor="middle" font-weight="bold">27</text>
<rect x="309.0" y="418.3" width="273.5" height="2.3"/>
<text transform="translate(310,438.7) scale(1,1.04)" font-size="14.8" text-anchor="start">MW, 250 °C, 10 min</text>
<text transform="translate(310,454.4) scale(1,1.04)" font-size="14.8" text-anchor="start">Reflux, 4 h</text>
<text transform="translate(457,438.5) scale(1,1.04)" font-size="14.8" text-anchor="start">37 % (75:25)</text>
<text transform="translate(457,454.2) scale(1,1.04)" font-size="14.8" text-anchor="start">41 % (98:2)</text>
<text transform="translate(590.3,438.7) scale(1,1.04)" font-size="14.8" text-anchor="end">11 %</text>
<text transform="translate(587.5,454.2) scale(1,1.04)" font-size="14.8" text-anchor="end">7 %</text>
</svg>
</body></html>
